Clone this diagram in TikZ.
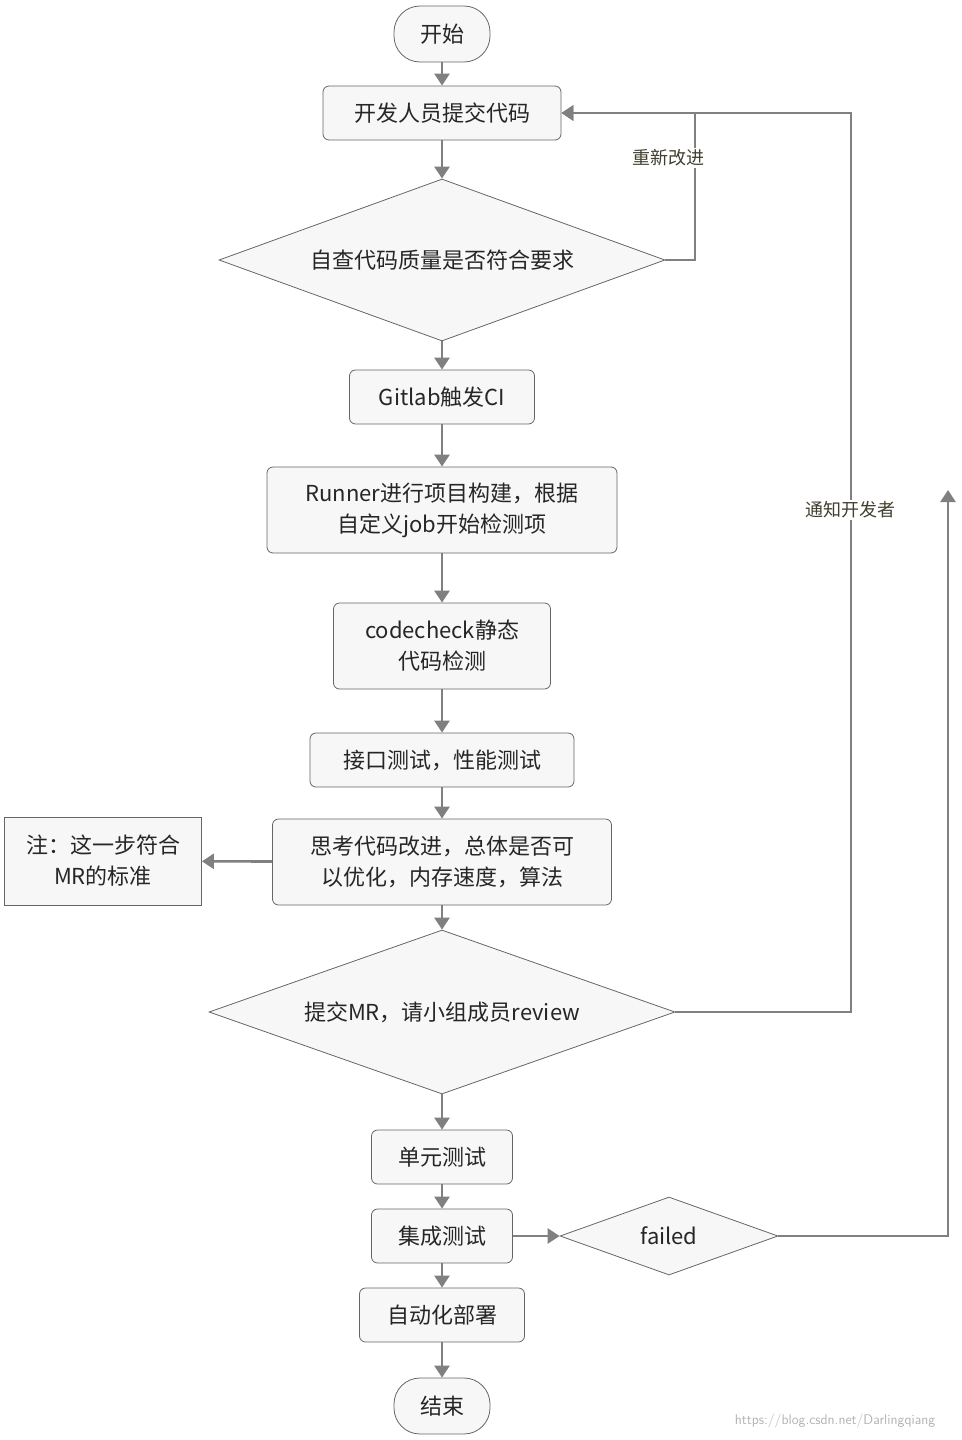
\documentclass[tikz,border=0pt]{standalone}
\usepackage{fontspec}
\newfontfamily\cjk{Noto Sans CJK SC}
\usetikzlibrary{arrows.meta,shapes.geometric}
\begin{document}
\begin{tikzpicture}[x=1pt,y=-1pt,
  every node/.style={font=\cjk\fontsize{22}{31}\selectfont, text=black!85, align=center},
  box/.style={draw=black!60, fill=black!3, rounded corners=6pt, line width=0.8pt, minimum height=#1, inner sep=0pt},
  box/.default=54pt,
  dia/.style={draw=black!60, fill=black!3, diamond, line width=0.8pt, inner sep=0pt},
  pill/.style={draw=black!60, fill=black!3, rounded corners=26pt, line width=0.8pt, inner sep=0pt, minimum width=96pt, minimum height=56pt},
  con/.style={draw=black!50, line width=2.6pt, -{Triangle[length=12pt,width=15pt]}},
  lab/.style={fill=white, inner sep=2pt, text=black!70!olive, font=\cjk\fontsize{18}{22}\selectfont}]
\useasboundingbox (0,0) rectangle (961,1440);
\node[pill] (s) at (442,34) {开始};
\node[box, minimum width=238pt] (a) at (442,113) {开发人员提交代码};
\node[dia, minimum width=446pt, minimum height=162pt] (d1) at (442,260) {};
\node at (442,260) {自查代码质量是否符合要求};
\node[box, minimum width=185pt] (g) at (442,397) {Gitlab触发CI};
\node[box=86pt, minimum width=350pt] (r) at (442,510) {Runner进行项目构建，根据\\自定义job开始检测项};
\node[box=86pt, minimum width=217pt] (c) at (442,646) {codecheck静态\\代码检测};
\node[box, minimum width=264pt] (i) at (442,760) {接口测试，性能测试};
\node[box=86pt, minimum width=339pt] (t) at (442,862) {思考代码改进，总体是否可\\以优化，内存速度，算法};
\node[draw=black!60, fill=black!3, line width=0.8pt, minimum width=197pt, minimum height=88pt, inner sep=0pt] (n) at (103,861) {注：这一步符合\\MR的标准};
\node[dia, minimum width=466pt, minimum height=164pt] (d2) at (442,1012) {};
\node at (442,1012) {提交MR，请小组成员review};
\node[box, minimum width=141pt] (u) at (442,1157) {单元测试};
\node[box, minimum width=141pt] (j) at (442,1236) {集成测试};
\node[dia, minimum width=218pt, minimum height=78pt] (f) at (669,1236) {};
\node at (669,1236) {failed};
\node[box, minimum width=165pt] (p) at (442,1315) {自动化部署};
\node[pill] (e) at (442,1406) {结束};
\draw[con] (s) -- (a);
\draw[con] (a) -- (d1.north);
\draw[con] (d1.south) -- (g);
\draw[con] (g) -- (r);
\draw[con] (r) -- (c);
\draw[con] (c) -- (i);
\draw[con] (i) -- (t);
\draw[con] (t) -- (n);
\draw[con] (t) -- (d2.north);
\draw[con] (d2.south) -- (u);
\draw[con] (u) -- (j);
\draw[con] (j) -- (f.west);
\draw[con] (j) -- (p);
\draw[con] (p) -- (e);
\draw[con] (d1.east) -- (695,260) -- (695,113) -- (a.east);
\node[lab] at (668,158) {重新改进};
\draw[con] (d2.east) -- (851,1012) -- (851,113) -- (a.east);
\node[lab] at (850,510) {通知开发者};
\coordinate (fe) at (948,490);
\draw[con] (f.east) -- (948,1236) -- (fe);
\node[text=black!30, font=\fontsize{14}{16}\selectfont\sffamily] at (835,1421) {https://blog.csdn.net/Darlingqiang};
\end{tikzpicture}
\end{document}
